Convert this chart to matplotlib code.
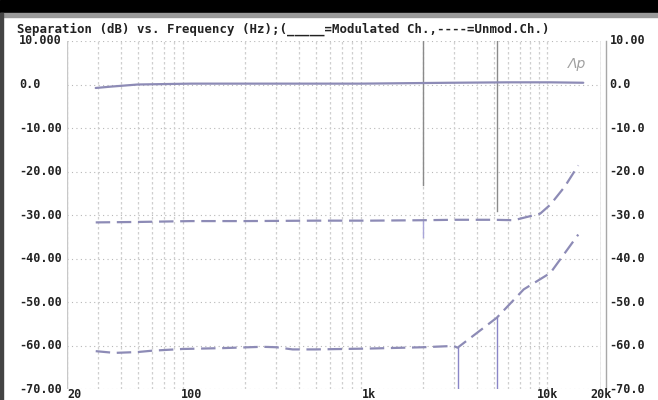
import matplotlib.pyplot as plt
import matplotlib.patches as mpatches

W, H = 658, 400

# sweep data (Hz, dB)
mod_freq = [29, 35, 50, 100, 300, 900, 2850, 6000, 10400, 15900]
mod_db = [-0.8, -0.5, 0.0, 0.2, 0.2, 0.2, 0.4, 0.5, 0.5, 0.4]

unmod_hi_freq = [29, 50, 100, 200, 500, 1000, 2000, 3000, 5000, 6470, 9100, 10400, 12500, 14900]
unmod_hi_db = [-31.7, -31.6, -31.4, -31.4, -31.3, -31.3, -31.2, -31.1, -31.1, -31.2, -29.7, -27.6, -23.5, -18.6]

unmod_lo_freq = [29, 37, 50, 60, 89, 150, 250, 300, 370, 500, 1000, 2000, 2970, 3130,
                 4050, 5200, 7360, 10400, 14900]
unmod_lo_db = [-61.3, -61.7, -61.5, -61.2, -60.8, -60.6, -60.3, -60.4, -60.9, -60.9, -60.7,
               -60.4, -60.1, -60.5, -57.0, -53.6, -47.1, -43.3, -34.5]

y_ticks = [10, 0, -10, -20, -30, -40, -50, -60, -70]
left_labels = ["10.000", "0.0", "-10.00", "-20.00", "-30.00", "-40.00", "-50.00", "-60.00", "-70.00"]
right_labels = ["10.00", "0.0", "-10.0", "-20.0", "-30.0", "-40.0", "-50.0", "-60.0", "-70.0"]
x_ticks = [20, 100, 1000, 10000, 20000]
x_labels = ["20", "100", "1k", "10k", "20k"]

# pen travel marks (freq, dB from, dB to, colour)
pen_marks = [(2000, 10, -23, "#8a8a8a"), (3130, -60.5, -70, "#8a86c8"),
             (5200, 10, -29, "#8a8a8a"), (5200, -53.6, -70, "#8a86c8"),
             (2000, -31.2, -35, "#a9a6d8")]

line_col = "#8d8bb6"
font = dict(family="DejaVu Sans Mono", fontweight="bold", fontsize=8.5, color="#222222")

fig = plt.figure(figsize=(W / 100, H / 100), dpi=100)
fig.patch.set_facecolor("white")

# scanner border
fig.patches.append(mpatches.Rectangle((0, 1 - 13 / H), 1, 13 / H, transform=fig.transFigure,
                                      color="black", zorder=0))
fig.patches.append(mpatches.Rectangle((0, 1 - 17 / H), 1, 4 / H, transform=fig.transFigure,
                                      color="#9a9a9a", zorder=0))
fig.patches.append(mpatches.Rectangle((0, 0), 3 / W, 1 - 13 / H, transform=fig.transFigure,
                                      color="#444444", zorder=0))

ax = fig.add_axes([67 / W, 11 / H, 534 / W, 348 / H])
ax.set_xscale("log")
ax.set_xlim(20, 20000)
ax.set_ylim(-70, 10)
ax.set_xticks([])
ax.set_yticks([])
ax.minorticks_off()
for s in ax.spines.values():
    s.set_visible(False)
ax.patch.set_alpha(0)

# grid
for y in y_ticks:
    ax.axhline(y, color="#b8b8b8", lw=0.8, ls=(0, (1, 3)), zorder=1)
grid_f = [f * d for d in (10, 100, 1000) for f in range(2, 10)] + [10000, 20000]
grid_f = [f for f in grid_f if 20 <= f <= 20000]
for f in grid_f:
    ax.axvline(f, color="#cfcfcf", lw=0.9, ls=(0, (2, 2)), zorder=1)
ax.axvline(20, color="#c8c8c8", lw=1.0, zorder=1)
ax.axvline(20000, color="#a8a8a8", lw=1.0, zorder=1)
ax.plot([1.01, 1.01], [0, 1], transform=ax.transAxes, color="#a8a8a8", lw=1.0, clip_on=False)

for f, y0, y1, c in pen_marks:
    ax.plot([f, f], [y0, y1], color=c, lw=1.0, zorder=2)

# curves
ax.plot(mod_freq, mod_db, color=line_col, lw=1.6, zorder=3, solid_capstyle="round")
ax.plot(unmod_hi_freq, unmod_hi_db, color=line_col, lw=1.6, dashes=(6.5, 3), zorder=3)
ax.plot(unmod_lo_freq, unmod_lo_db, color=line_col, lw=1.6, dashes=(6.5, 3), zorder=3)

# y labels, both sides
for y, lt, rt in zip(y_ticks, left_labels, right_labels):
    ax.text(-0.09, y, lt, transform=ax.get_yaxis_transform(), ha="left", va="center", **font)
    ax.text(1.016, y, rt, transform=ax.get_yaxis_transform(), ha="left", va="center", **font)

# x labels
xtr = ax.get_xaxis_transform()
for f, t in zip(x_ticks, x_labels):
    ax.text(f, -5.5 / 348, t, transform=xtr, ha="left" if f == 20 else "center",
            va="center", **font)

fig.text(17 / W, 1 - 29 / H,
         "Separation (dB) vs. Frequency (Hz);(_____=Modulated Ch.,----=Unmod.Ch.)",
         ha="left", va="center", **{**font, "fontsize": 8.9})

ax.text(0.955, 0.955, "Λp", transform=ax.transAxes, ha="center", va="top",
        fontsize=10, style="italic", color="#a0a0a0")

fig.savefig("out.png", dpi=100)
